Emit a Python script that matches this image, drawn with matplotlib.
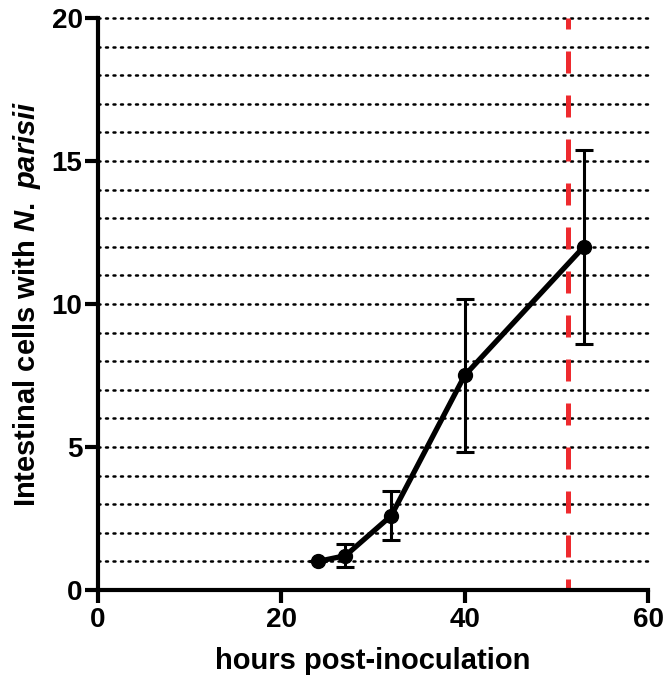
import matplotlib
matplotlib.use("Agg")
import matplotlib.pyplot as plt

hours = [24, 27, 32, 40, 53]
cells = [1.0, 1.2, 2.6, 7.5, 12.0]
errors = [0.0, 0.4, 0.85, 2.67, 3.4]
red_line_x = 51.3
grid_levels = list(range(1, 21))
x_ticks = [0, 20, 40, 60]
y_ticks = [0, 5, 10, 15, 20]

plt.rcParams['font.family'] = ['Liberation Sans', 'DejaVu Sans']
plt.rcParams['font.weight'] = 'bold'
plt.rcParams['mathtext.fontset'] = 'custom'
plt.rcParams['mathtext.rm'] = 'Liberation Sans:bold'
plt.rcParams['mathtext.it'] = 'Liberation Sans:italic:bold'
plt.rcParams['mathtext.bf'] = 'Liberation Sans:bold'

fig = plt.figure(figsize=(6.66, 6.77), dpi=100)
ax = fig.add_axes([0.147, 0.1285, 0.826, 0.845])

for g in grid_levels:
    ax.plot([0, 60], [g, g], color='black', lw=1.8, linestyle=(0, (0.8, 2.2)),
            dash_capstyle='round', zorder=1, clip_on=False)

ax.plot([red_line_x, red_line_x], [20, 0], color='#ee2a2e', lw=3.6,
        linestyle=(2.2, (4.4, 4.4)), zorder=2, clip_on=False)

ax.errorbar(hours, cells, yerr=errors, color='black', lw=3.8, marker='o',
            markersize=10, elinewidth=2.2, capsize=6.5, capthick=2.2, zorder=3)

ax.set_xlim(0, 60)
ax.set_ylim(0, 20)
ax.set_xticks(x_ticks)
ax.set_yticks(y_ticks)
for s in ['top', 'right']:
    ax.spines[s].set_visible(False)
for s in ['left', 'bottom']:
    ax.spines[s].set_linewidth(3)
ax.tick_params(width=3, length=9.5, labelsize=20)
ax.tick_params(axis='x', pad=3)
ax.tick_params(axis='y', pad=1.5)
for lab in ax.get_xticklabels() + ax.get_yticklabels():
    lab.set_fontweight('bold')

ax.set_xlabel('hours post-inoculation', fontsize=21, fontweight='bold', labelpad=10)
ax.set_ylabel(r'Intestinal cells with $\it{N.\ parisii}$', fontsize=21, fontweight='bold', labelpad=6)

fig.savefig('out.png', dpi=100)
